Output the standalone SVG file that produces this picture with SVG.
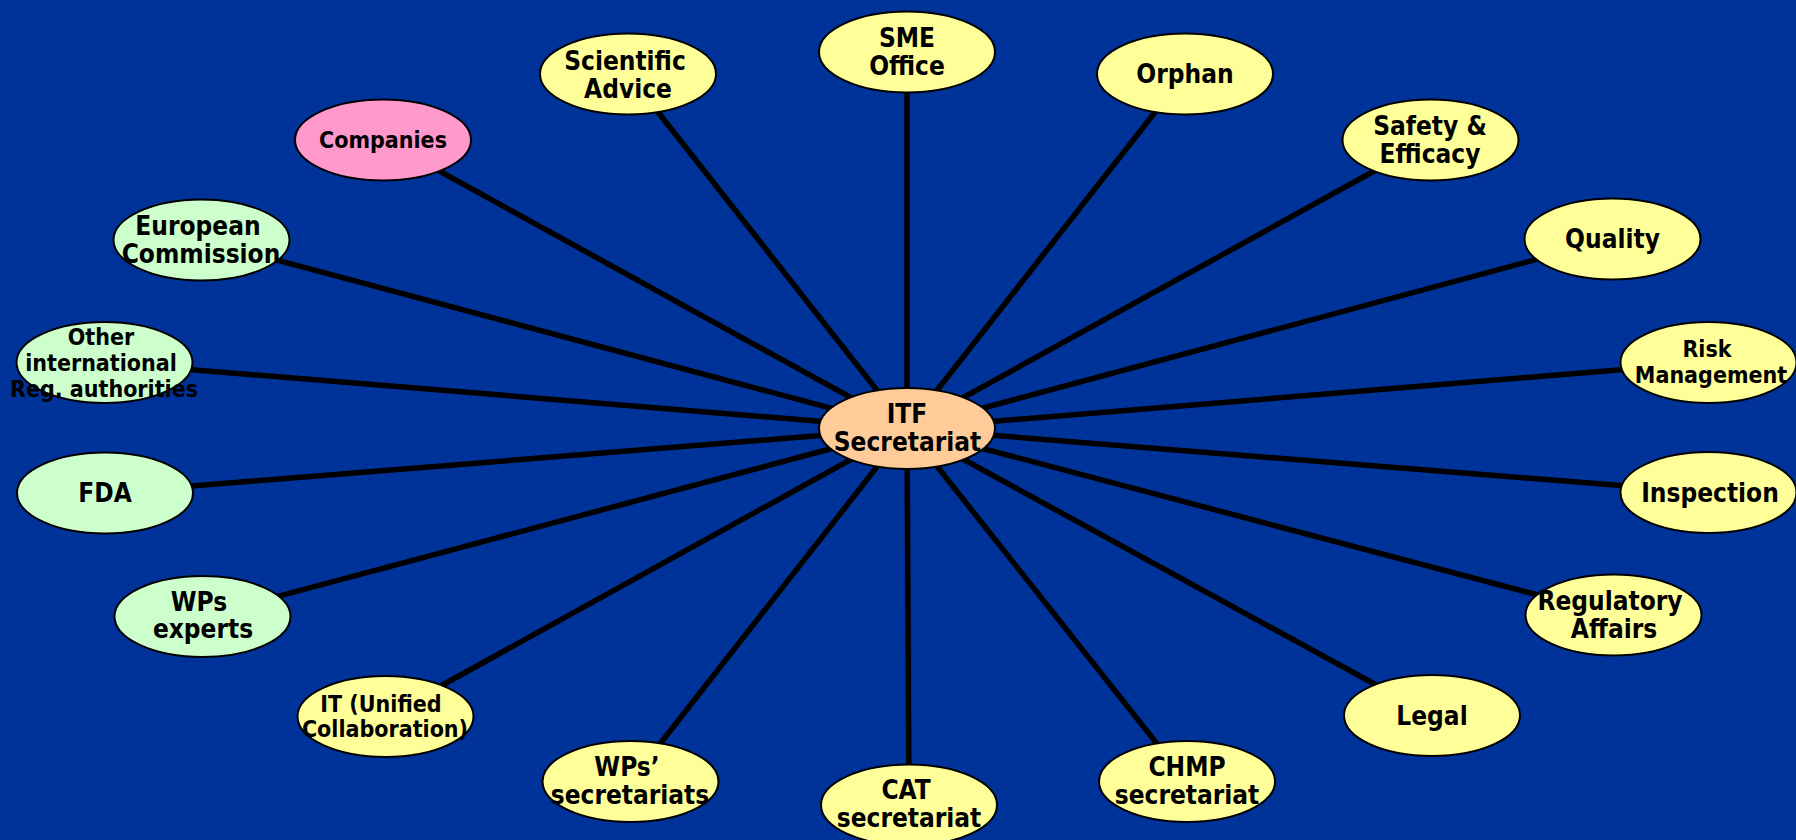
<svg xmlns="http://www.w3.org/2000/svg" width="1796" height="840" viewBox="0 0 1796 840">
<style>
.bg{fill:#003399}
.n ellipse{stroke:#000;stroke-width:2}
.y{fill:#FFFF99}.g{fill:#CCFFCC}.p{fill:#FF99CC}.o{fill:#FFCC99}
.c line{stroke:#000;stroke-width:5.5}
text{font-family:"DejaVu Sans Condensed","DejaVu Sans",sans-serif;font-weight:bold;font-stretch:condensed;fill:#000;text-anchor:middle;font-size:26px}
text.s{font-size:23px}
</style>
<rect class="bg" x="0" y="0" width="1796" height="840"/>
<g id="connectors" class="c">
<line x1="907" y1="428.5" x2="907" y2="52"/>
<line x1="907" y1="428.5" x2="628" y2="74"/>
<line x1="907" y1="428.5" x2="1185" y2="74"/>
<line x1="907" y1="428.5" x2="383" y2="140"/>
<line x1="907" y1="428.5" x2="1430.5" y2="140"/>
<line x1="907" y1="428.5" x2="201.5" y2="240"/>
<line x1="907" y1="428.5" x2="1612.5" y2="239"/>
<line x1="907" y1="428.5" x2="104.5" y2="362.5"/>
<line x1="907" y1="428.5" x2="1708.5" y2="362.5"/>
<line x1="907" y1="428.5" x2="105" y2="493"/>
<line x1="907" y1="428.5" x2="1708.5" y2="492.5"/>
<line x1="907" y1="428.5" x2="202.5" y2="616.5"/>
<line x1="907" y1="428.5" x2="1613.5" y2="615"/>
<line x1="907" y1="428.5" x2="385.5" y2="716.5"/>
<line x1="907" y1="428.5" x2="1432" y2="715.5"/>
<line x1="907" y1="428.5" x2="630.5" y2="781.5"/>
<line x1="907" y1="428.5" x2="1187" y2="781.5"/>
<line x1="907" y1="428.5" x2="909" y2="805"/>
</g>
<g id="sme" class="n"><ellipse class="y" cx="907" cy="52" rx="88" ry="40.5"/><text x="907" y="46.5">SME</text><text x="907" y="75">Office</text></g>
<g id="scientific" class="n"><ellipse class="y" cx="628" cy="74" rx="88" ry="40.5"/><text x="625" y="70">Scientific</text><text x="628" y="97.5">Advice</text></g>
<g id="orphan" class="n"><ellipse class="y" cx="1185" cy="74" rx="88" ry="40.5"/><text x="1185" y="82.5">Orphan</text></g>
<g id="companies" class="n"><ellipse class="p" cx="383" cy="140" rx="88" ry="40.5"/><text class="s" x="383" y="148">Companies</text></g>
<g id="safety" class="n"><ellipse class="y" cx="1430.5" cy="140" rx="88" ry="40.5"/><text x="1430" y="135">Safety &amp;</text><text x="1430" y="162.5">Efficacy</text></g>
<g id="ec" class="n"><ellipse class="g" cx="201.5" cy="240" rx="88" ry="40.5"/><text x="198" y="235">European</text><text x="201" y="263">Commission</text></g>
<g id="quality" class="n"><ellipse class="y" cx="1612.5" cy="239" rx="88" ry="40.5"/><text x="1612.5" y="248">Quality</text></g>
<g id="other" class="n"><ellipse class="g" cx="104.5" cy="362.5" rx="88" ry="40.5"/><text class="s" x="101" y="345">Other</text><text class="s" x="101" y="371">international</text><text class="s" x="104" y="396.5">Reg. authorities</text></g>
<g id="risk" class="n"><ellipse class="y" cx="1708.5" cy="362.5" rx="88" ry="40.5"/><text class="s" x="1707" y="356.5">Risk</text><text class="s" x="1711" y="383">Management</text></g>
<g id="fda" class="n"><ellipse class="g" cx="105" cy="493" rx="88" ry="40.5"/><text x="105" y="502">FDA</text></g>
<g id="inspection" class="n"><ellipse class="y" cx="1708.5" cy="492.5" rx="88" ry="40.5"/><text x="1710" y="501.5">Inspection</text></g>
<g id="wpexperts" class="n"><ellipse class="g" cx="202.5" cy="616.5" rx="88" ry="40.5"/><text x="199" y="610.5">WPs</text><text x="203" y="638">experts</text></g>
<g id="regulatory" class="n"><ellipse class="y" cx="1613.5" cy="615" rx="88" ry="40.5"/><text x="1610" y="610">Regulatory</text><text x="1614" y="638">Affairs</text></g>
<g id="it" class="n"><ellipse class="y" cx="385.5" cy="716.5" rx="88" ry="40.5"/><text class="s" x="381" y="711.5">IT (Unified</text><text class="s" x="385" y="736.5">Collaboration)</text></g>
<g id="legal" class="n"><ellipse class="y" cx="1432" cy="715.5" rx="88" ry="40.5"/><text x="1432" y="725">Legal</text></g>
<g id="wpsec" class="n"><ellipse class="y" cx="630.5" cy="781.5" rx="88" ry="40.5"/><text x="627" y="776">WPs’</text><text x="630" y="804">secretariats</text></g>
<g id="chmp" class="n"><ellipse class="y" cx="1187" cy="781.5" rx="88" ry="40.5"/><text x="1187" y="776">CHMP</text><text x="1187" y="804">secretariat</text></g>
<g id="cat" class="n"><ellipse class="y" cx="909" cy="805" rx="88" ry="40.5"/><text x="906" y="799">CAT</text><text x="909" y="826.5">secretariat</text></g>
<g id="itf" class="n"><ellipse class="o" cx="907" cy="428.5" rx="88" ry="40.5"/><text x="907" y="423">ITF</text><text x="907.5" y="450.5">Secretariat</text></g>
</svg>
